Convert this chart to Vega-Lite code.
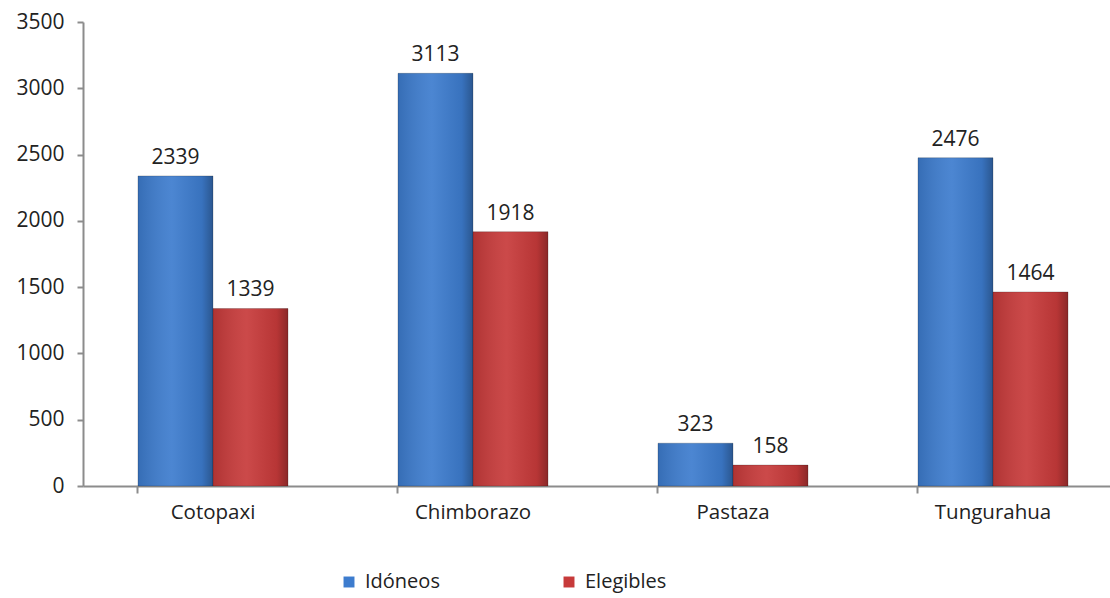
{
  "$schema": "https://vega.github.io/schema/vega-lite/v6.json",
  "width": 1040,
  "height": 464,
  "autosize": {"type": "none"},
  "padding": {"left": 83, "top": 22, "right": 0, "bottom": 112},
  "background": "white",
  "config": {"view": {"stroke": null}, "font": "Open Sans"},
  "data": {"values": [
    {"provincia": "Cotopaxi", "serie": "Idóneos", "valor": 2339},
    {"provincia": "Cotopaxi", "serie": "Elegibles", "valor": 1339},
    {"provincia": "Chimborazo", "serie": "Idóneos", "valor": 3113},
    {"provincia": "Chimborazo", "serie": "Elegibles", "valor": 1918},
    {"provincia": "Pastaza", "serie": "Idóneos", "valor": 323},
    {"provincia": "Pastaza", "serie": "Elegibles", "valor": 158},
    {"provincia": "Tungurahua", "serie": "Idóneos", "valor": 2476},
    {"provincia": "Tungurahua", "serie": "Elegibles", "valor": 1464}
  ]},
  "encoding": {
    "x": {"field": "provincia", "type": "nominal", "sort": ["Cotopaxi", "Chimborazo", "Pastaza", "Tungurahua"], "axis": null,
      "scale": {"paddingInner": 0.423, "paddingOuter": 0.2115}},
    "xOffset": {"field": "serie", "type": "nominal", "sort": ["Idóneos", "Elegibles"]},
    "y": {"field": "valor", "type": "quantitative", "scale": {"domain": [0, 3500], "nice": false}}
  },
  "layer": [
    {
      "mark": {"type": "bar", "stroke": "rgba(0,0,0,0.25)", "strokeWidth": 0.8},
      "encoding": {
        "x": {"field": "provincia", "type": "nominal", "sort": ["Cotopaxi", "Chimborazo", "Pastaza", "Tungurahua"], "title": null,
          "axis": {"orient": "bottom", "labelFontSize": 20.5, "labelColor": "#222", "labelPadding": 16, "ticks": false, "domainColor": "#8c8c8c", "domainWidth": 2, "labelAngle": 0}},
        "y": {"field": "valor", "type": "quantitative", "title": null,
          "axis": {"values": [0, 500, 1000, 1500, 2000, 2500, 3000, 3500], "format": "d", "grid": false, "labelFontSize": 21, "labelColor": "#222", "labelPadding": 13, "tickSize": 6, "tickColor": "#8c8c8c", "tickWidth": 2, "domainColor": "#8c8c8c", "domainWidth": 2}},
        "color": {"field": "serie", "type": "nominal", "sort": ["Idóneos", "Elegibles"],
          "scale": {"domain": ["Idóneos", "Elegibles"], "range": ["#3d7cce", "#c73a3a"]},
          "legend": {"orient": "none", "legendX": 256, "legendY": 550, "direction": "horizontal", "columns": 2, "gridAlign": "all", "columnPadding": 112, "title": null, "symbolType": "square", "symbolSize": 120, "labelFontSize": 20, "labelColor": "#222", "labelOffset": 6, "symbolStrokeWidth": 0}}
      }
    },
    {
      "mark": {"type": "bar", "fill": {"gradient": "linear", "x1": 0, "x2": 1, "y1": 0, "y2": 0, "stops": [
        {"offset": 0, "color": "rgba(0,0,0,0.12)"},
        {"offset": 0.45, "color": "rgba(255,255,255,0.08)"},
        {"offset": 0.85, "color": "rgba(0,0,0,0.08)"},
        {"offset": 1, "color": "rgba(0,0,0,0.3)"}]}}
    },
    {
      "mark": {"type": "text", "baseline": "bottom", "dy": -8, "fontSize": 21, "color": "#222"},
      "encoding": {"text": {"field": "valor", "type": "quantitative", "format": "d"}}
    },
    {
      "mark": {"type": "bar", "opacity": 0},
      "encoding": {
        "x": {"field": "provincia", "type": "nominal", "sort": ["Cotopaxi", "Chimborazo", "Pastaza", "Tungurahua"], "title": null,
          "axis": {"orient": "bottom", "bandPosition": 0, "labels": false, "domain": false, "tickSize": 7, "tickColor": "#8c8c8c", "tickWidth": 2}}
      }
    }
  ],
  "resolve": {"axis": {"x": "independent"}}
}
